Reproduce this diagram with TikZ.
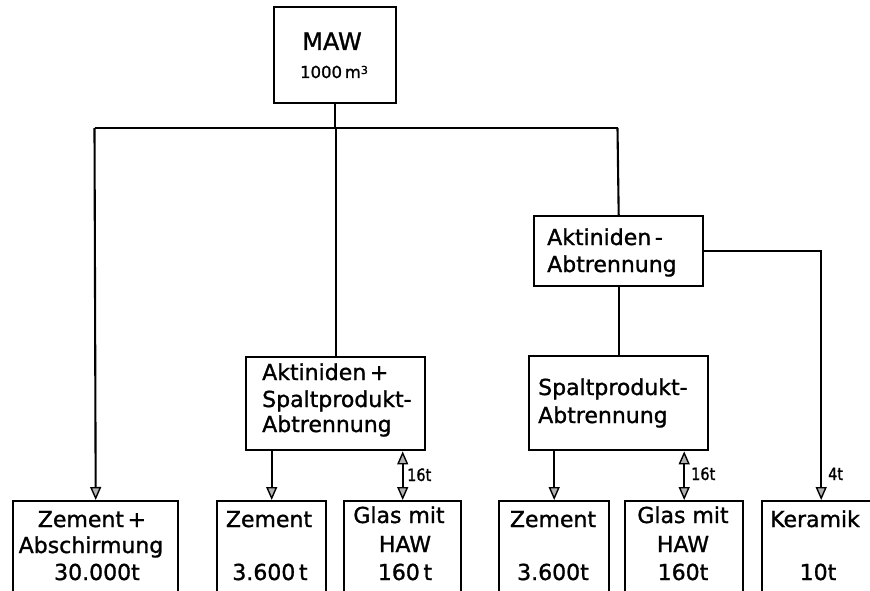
\documentclass[tikz,border=0pt]{standalone}
\usepackage{fontspec}
\setmainfont{DejaVu Sans}
\newfontfamily\diafont{DejaVu Sans}[FakeBold=1.2]
\newfontfamily\diafontnarrow{DejaVu Sans}[FakeBold=1.2,FakeStretch=0.85]
\usetikzlibrary{arrows.meta}

\begin{document}
\begin{tikzpicture}[x=1pt,y=-1pt,
  box/.style={draw, line width=2.4pt, rectangle, inner sep=0pt, anchor=north west},
  wire/.style={line width=2.1pt},
  tip/.tip={Triangle[length=13pt,width=11pt,fill=gray!60,line width=1.4pt]},
  flow/.style={wire, -tip},
  both/.style={wire, tip-tip},
  txt/.style={font=\diafont\fontsize{22}{26}\selectfont, anchor=base, inner sep=0pt},
  ltxt/.style={txt, anchor=base west},
  small/.style={font=\diafontnarrow\fontsize{17}{19}\selectfont, anchor=base west, inner sep=0pt}
]
\useasboundingbox (0,0) rectangle (870,591);
\clip (0,0) rectangle (870,591);

% boxes
\node[box, minimum width=122pt, minimum height=96pt] (maw) at (273,6) {};
\node[box, minimum width=179pt, minimum height=93pt] (akp) at (245,356) {};
\node[box, minimum width=169pt, minimum height=70pt] (akm) at (533,215) {};
\node[box, minimum width=179pt, minimum height=94pt] (spa) at (528,355) {};
\node[box, minimum width=165pt, minimum height=130pt] (b1) at (12,500) {};
\node[box, minimum width=109pt, minimum height=130pt] (b2) at (216,500) {};
\node[box, minimum width=117pt, minimum height=130pt] (b3) at (343,500) {};
\node[box, minimum width=110pt, minimum height=130pt] (b4) at (498,500) {};
\node[box, minimum width=118pt, minimum height=130pt] (b5) at (624,500) {};
\node[box, minimum width=118pt, minimum height=130pt] (b6) at (761,500) {};

% box texts
\node[txt, font=\diafont\fontsize{24}{28}\selectfont] (maw1) at (332,50) {MAW};
\node[txt, font=\diafont\fontsize{16.5}{20}\selectfont] (maw2) at (334,78) {1000\,m\raisebox{4pt}{\fontsize{11}{12}\selectfont 3}};

\node[ltxt] (akp1) at (262,380) {Aktiniden\,+};
\node[ltxt] (akp2) at (262,407) {Spaltprodukt-};
\node[ltxt] (akp3) at (262,432) {Abtrennung};

\node[ltxt] (akm1) at (547,245) {Aktiniden\,-};
\node[ltxt] (akm2) at (547,272) {Abtrennung};

\node[ltxt] (spa1) at (538,395) {Spaltprodukt-};
\node[ltxt] (spa2) at (538,423) {Abtrennung};

\node[txt] (b1a) at (92,527) {Zement\,+};
\node[txt] (b1b) at (91,553) {Abschirmung};
\node[txt] (b1c) at (97,580) {30.000t};

\node[txt] (b2a) at (269,527) {Zement};
\node[txt] (b2b) at (270,580) {3.600\,t};

\node[txt] (b3a) at (399,523) {Glas mit};
\node[txt] (b3b) at (405,552) {HAW};
\node[txt] (b3c) at (405,580) {160\,t};

\node[txt] (b4a) at (553,527) {Zement};
\node[txt] (b4b) at (553,580) {3.600t};

\node[txt] (b5a) at (683,523) {Glas mit};
\node[txt] (b5b) at (683,552) {HAW};
\node[txt] (b5c) at (683,580) {160t};

\node[txt] (b6a) at (815,527) {Keramik};
\node[txt] (b6b) at (818,580) {10t};

% flow labels
\node[small] (m1) at (407,481) {16t};
\node[small] (m2) at (691,480) {16t};
\node[small] (m3) at (828,480) {4t};

% connectors
\coordinate (jl) at (94.5,128);
\coordinate (jr) at (617.5,128);
\draw[wire] (maw.south) -- (maw.south |- jl);
\draw[wire] (jl) -- (jr);
\draw[flow] (jl) -- (b1.north);
\draw[wire] (akp.north |- jl) -- (akp.north);
\draw[wire] (jr) -- (akm.north);
\draw[wire] (akm.south) -- (spa.north);
\draw[flow] (akm.east) -| (b6.north);
\draw[flow] (b2.north |- akp.south) -- (b2.north);
\draw[both] (b3.north |- akp.south) -- (b3.north);
\draw[flow] (b4.north |- spa.south) -- (b4.north);
\draw[both] (b5.north |- spa.south) -- (b5.north);
\end{tikzpicture}
\end{document}
